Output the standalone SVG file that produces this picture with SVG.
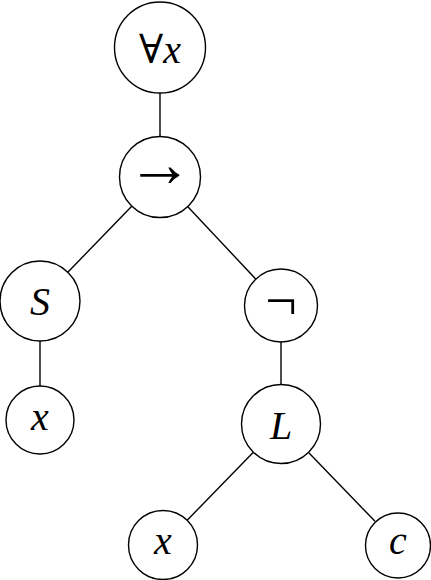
<svg xmlns="http://www.w3.org/2000/svg" width="431" height="580" viewBox="0 0 431 580">
<style>
.n{fill:#fff;stroke:#000;stroke-width:1.4}
.e{stroke:#000;stroke-width:1.4;fill:none}
.t{font-family:"Liberation Serif","DejaVu Serif",serif;font-size:40px;text-anchor:middle;fill:#000}
.i{font-style:italic}
.arr{font-size:66px}
.neg{font-size:56px}
</style>
<rect width="431" height="580" fill="#fff"/>
<g id="connectors">
<line class="e" x1="160" y1="93" x2="160" y2="137"/>
<line class="e" x1="132.2" y1="205.7" x2="67.8" y2="272.3"/>
<line class="e" x1="187.4" y1="206.2" x2="256.4" y2="279.8"/>
<line class="e" x1="40" y1="341" x2="40" y2="386"/>
<line class="e" x1="281" y1="342" x2="281" y2="385"/>
<line class="e" x1="253.1" y1="452.6" x2="187.4" y2="520"/>
<line class="e" x1="308.8" y1="452.8" x2="375" y2="521.3"/>
</g>
<g id="forall">
<circle class="n" cx="160" cy="47.5" r="45.5"/>
<text class="t" x="160" y="63">∀<tspan class="i">x</tspan></text>
</g>
<g id="implies">
<circle class="n" cx="160" cy="177" r="40.5"/>
<text class="t arr" x="160" y="186">→</text>
</g>
<g id="S">
<circle class="n" cx="40" cy="301" r="40"/>
<text class="t i" x="40" y="315">S</text>
</g>
<g id="not">
<circle class="n" cx="281" cy="305.5" r="36.5"/>
<text class="t neg" x="281" y="320">¬</text>
</g>
<g id="x1">
<circle class="n" cx="40" cy="420" r="34"/>
<text class="t i" x="40" y="430">x</text>
</g>
<g id="L">
<circle class="n" cx="281" cy="424" r="39.5"/>
<text class="t i" x="281" y="439">L</text>
</g>
<g id="x2">
<circle class="n" cx="163" cy="545" r="34.5"/>
<text class="t i" x="163" y="554">x</text>
</g>
<g id="c">
<circle class="n" cx="398" cy="545.5" r="32.5"/>
<text class="t i" x="398" y="554">c</text>
</g>
</svg>
